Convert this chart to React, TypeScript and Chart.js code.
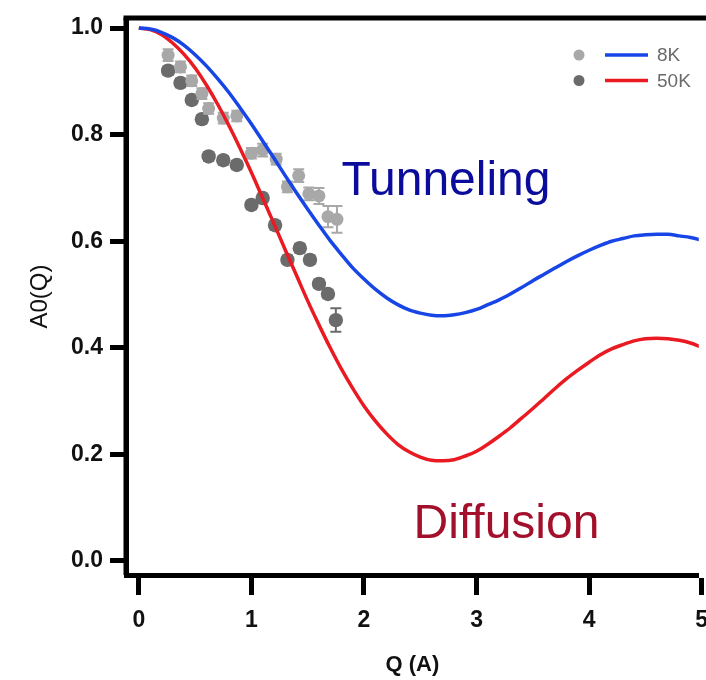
import React, { useEffect, useRef } from "react";
import { Chart, registerables } from "chart.js";

Chart.register(...registerables);

// ---- data ----
const qGrid = [
  0.0, 0.1, 0.2, 0.3, 0.4, 0.5, 0.6, 0.7, 0.8, 0.9,
  1.0, 1.1, 1.2, 1.3, 1.4, 1.5, 1.6, 1.7, 1.8, 1.9,
  2.0, 2.1, 2.2, 2.3, 2.4, 2.5, 2.6, 2.7, 2.8, 2.9,
  3.0, 3.1, 3.2, 3.3, 3.4, 3.5, 3.6, 3.7, 3.8, 3.9,
  4.0, 4.1, 4.2, 4.3, 4.4, 4.5, 4.6, 4.7, 4.8, 4.9,
  5.0, 5.1, 5.2,
];
const curve8K = [
  1.0, 0.998, 0.992, 0.982, 0.968, 0.95, 0.929, 0.905, 0.879, 0.85,
  0.82, 0.788, 0.756, 0.723, 0.691, 0.66, 0.63, 0.601, 0.575, 0.55,
  0.529, 0.51, 0.494, 0.481, 0.471, 0.465, 0.461, 0.46, 0.462, 0.466,
  0.472, 0.481, 0.49, 0.501, 0.513, 0.526, 0.538, 0.55, 0.562, 0.573,
  0.583, 0.592, 0.6, 0.605, 0.61, 0.612, 0.613, 0.613, 0.61, 0.607,
  0.602, 0.596, 0.589,
];
const curve50K = [
  1.0, 0.997, 0.988, 0.972, 0.951, 0.925, 0.893, 0.857, 0.817, 0.774,
  0.729, 0.681, 0.633, 0.584, 0.536, 0.488, 0.443, 0.4, 0.36, 0.324,
  0.291, 0.263, 0.239, 0.219, 0.205, 0.195, 0.189, 0.188, 0.19, 0.197,
  0.206, 0.219, 0.234, 0.25, 0.268, 0.286, 0.305, 0.324, 0.342, 0.358,
  0.373, 0.387, 0.398, 0.406, 0.413, 0.417, 0.418, 0.417, 0.414, 0.409,
  0.401, 0.393, 0.382,
];

const q8K = [0.26, 0.37, 0.47, 0.56, 0.62, 0.75, 0.87, 1.0, 1.1, 1.22, 1.42, 1.32, 1.51, 1.6, 1.68, 1.76];
const a8K = [0.949, 0.927, 0.901, 0.877, 0.849, 0.831, 0.835, 0.765, 0.771, 0.754, 0.723, 0.702, 0.689, 0.685, 0.646, 0.641];
const err8K = [0.011, 0.01, 0.01, 0.01, 0.01, 0.01, 0.01, 0.01, 0.012, 0.01, 0.012, 0.01, 0.012, 0.015, 0.02, 0.025];

const q50K = [0.26, 0.37, 0.47, 0.56, 0.62, 0.75, 0.87, 1.0, 1.1, 1.21, 1.43, 1.32, 1.52, 1.6, 1.68, 1.75];
const a50K = [0.92, 0.897, 0.865, 0.829, 0.759, 0.752, 0.743, 0.668, 0.681, 0.63, 0.587, 0.565, 0.565, 0.52, 0.501, 0.452];
const err50K = [0.008, 0.008, 0.008, 0.008, 0.008, 0.008, 0.008, 0.008, 0.008, 0.008, 0.008, 0.008, 0.008, 0.008, 0.008, 0.022];

const xTicks = [0, 1, 2, 3, 4, 5];
const yTicks = [0, 0.2, 0.4, 0.6, 0.8, 1.0];
const legendLabels = ["8K", "50K"];
const annotations = [
  { text: "Tunneling", q: 1.8, a: 0.687, color: "#0b0b9c" },
  { text: "Diffusion", q: 2.44, a: 0.043, color: "#a3102c" },
];

// ---- styles ----
const BLUE = "#1846e6";
const RED = "#ea1a22";
const LIGHT = "#a8a8a8";
const DARK = "#6b6b6b";
const FONT = "'Liberation Sans', Arial, Helvetica, sans-serif";

const errors: Record<number, number[]> = { 2: err8K, 3: err50K };

const decorPlugin = {
  id: "decor",
  beforeDatasetDraw(chart: any, args: any) {
    const err = errors[args.index];
    if (!err) return;
    const ds = chart.data.datasets[args.index];
    const xs = chart.scales.x;
    const ys = chart.scales.y;
    const ctx = chart.ctx;
    ctx.save();
    ctx.strokeStyle = ds.backgroundColor;
    ctx.lineWidth = 2;
    ds.data.forEach((p: any, i: number) => {
      const px = xs.getPixelForValue(p.x);
      const y1 = ys.getPixelForValue(p.y - err[i]);
      const y2 = ys.getPixelForValue(p.y + err[i]);
      ctx.beginPath();
      ctx.moveTo(px, y1);
      ctx.lineTo(px, y2);
      ctx.moveTo(px - 5.5, y1);
      ctx.lineTo(px + 5.5, y1);
      ctx.moveTo(px - 5.5, y2);
      ctx.lineTo(px + 5.5, y2);
      ctx.stroke();
    });
    ctx.restore();
  },
  afterDraw(chart: any) {
    const ctx = chart.ctx;
    const { left, right, top, bottom } = chart.chartArea;
    const xs = chart.scales.x;
    const ys = chart.scales.y;
    ctx.save();
    // top frame line
    ctx.strokeStyle = "#000";
    ctx.lineWidth = 5;
    ctx.lineCap = "square";
    ctx.beginPath();
    ctx.moveTo(left, top);
    ctx.lineTo(right + 10, top);
    ctx.stroke();
    ctx.lineCap = "butt";
    ctx.beginPath();
    ctx.moveTo(left, top);
    ctx.lineTo(left, bottom);
    ctx.stroke();

    // annotations
    ctx.font = `48px ${FONT}`;
    ctx.textBaseline = "alphabetic";
    ctx.textAlign = "left";
    annotations.forEach((a) => {
      ctx.fillStyle = a.color;
      ctx.fillText(a.text, xs.getPixelForValue(a.q), ys.getPixelForValue(a.a));
    });

    // legend
    const rows = [
      { marker: LIGHT, line: BLUE, y: 55 },
      { marker: DARK, line: RED, y: 80.5 },
    ];
    ctx.font = `19px ${FONT}`;
    ctx.textBaseline = "middle";
    rows.forEach((r, i) => {
      ctx.fillStyle = r.marker;
      ctx.beginPath();
      ctx.arc(579, r.y, 5.5, 0, Math.PI * 2);
      ctx.fill();
      ctx.strokeStyle = r.line;
      ctx.lineWidth = 3.5;
      ctx.beginPath();
      ctx.moveTo(605, r.y);
      ctx.lineTo(648, r.y);
      ctx.stroke();
      ctx.fillStyle = "#6a6a6a";
      ctx.fillText(legendLabels[i], 657, r.y + 1);
    });
    ctx.restore();
  },
};

export default function App() {
  const ref = useRef<HTMLCanvasElement | null>(null);

  useEffect(() => {
    if (!ref.current) return;
    const chart = new Chart(ref.current, {
      type: "scatter",
      data: {
        datasets: [
          {
            label: "8K fit",
            type: "line",
            data: qGrid.map((q, i) => ({ x: q, y: curve8K[i] })),
            borderColor: BLUE,
            borderWidth: 3.5,
            pointRadius: 0,
            cubicInterpolationMode: "monotone",
            fill: false,
            order: 0,
          },
          {
            label: "50K fit",
            type: "line",
            data: qGrid.map((q, i) => ({ x: q, y: curve50K[i] })),
            borderColor: RED,
            borderWidth: 3.5,
            pointRadius: 0,
            cubicInterpolationMode: "monotone",
            fill: false,
            order: 0,
          },
          {
            label: "8K",
            data: q8K.map((q, i) => ({ x: q, y: a8K[i] })),
            backgroundColor: LIGHT,
            borderColor: LIGHT,
            borderWidth: 0,
            pointRadius: 6.5,
            order: 1,
          },
          {
            label: "50K",
            data: q50K.map((q, i) => ({ x: q, y: a50K[i] })),
            backgroundColor: DARK,
            borderColor: DARK,
            borderWidth: 0,
            pointRadius: 7.2,
            order: 2,
          },
        ],
      },
      options: {
        responsive: false,
        animation: false,
        devicePixelRatio: 1,
        layout: { padding: { top: 18, left: 0, right: 0, bottom: 0 } },
        plugins: { legend: { display: false }, tooltip: { enabled: false } },
        scales: {
          x: {
            type: "linear",
            min: -0.114,
            max: 4.974,
            afterBuildTicks: (axis: any) => {
              axis.ticks = xTicks.map((v) => ({ value: v }));
            },
            afterFit: (s: any) => {
              s.height = 105;
              s.paddingLeft = 0;
              s.paddingRight = 0;
            },
            ticks: {
              autoSkip: false,
              maxRotation: 0,
              padding: 12,
              color: "#111",
              font: { family: FONT, size: 23, weight: "bold" },
              callback: (v: any) => String(v),
            },
            grid: {
              drawOnChartArea: false,
              drawTicks: true,
              tickLength: 20,
              tickWidth: 5,
              tickColor: "#000",
            },
            border: { display: true, color: "#000", width: 5 },
            title: {
              display: true,
              text: "Q (A)",
              color: "#111",
              font: { family: FONT, size: 22, weight: "bold" },
              padding: { top: 2, bottom: 2 },
            },
          },
          y: {
            type: "linear",
            min: -0.0263,
            max: 1.0188,
            afterBuildTicks: (axis: any) => {
              axis.ticks = yTicks.map((v) => ({ value: v }));
            },
            afterFit: (s: any) => {
              s.width = 126;
              s.paddingTop = 0;
              s.paddingBottom = 0;
            },
            ticks: {
              padding: 7,
              color: "#111",
              font: { family: FONT, size: 23, weight: "bold" },
              callback: (v: any) => Number(v).toFixed(1),
            },
            grid: {
              drawOnChartArea: false,
              drawTicks: true,
              tickLength: 16,
              tickWidth: 5,
              tickColor: "#000",
            },
            border: { display: true, color: "#000", width: 5 },
            title: {
              display: true,
              text: "A0(Q)",
              color: "#111",
              font: { family: FONT, size: 24, weight: "normal" },
              padding: { top: 26, bottom: 26 },
            },
          },
        },
      },
      plugins: [decorPlugin],
    } as any);
    return () => chart.destroy();
  }, []);

  return (
    <div
      style={{
        position: "fixed",
        left: 0,
        top: 0,
        width: 706,
        height: 680,
        overflow: "hidden",
        background: "#fff",
      }}
    >
      <canvas ref={ref} width={706} height={680} style={{ display: "block" }} />
    </div>
  );
}
